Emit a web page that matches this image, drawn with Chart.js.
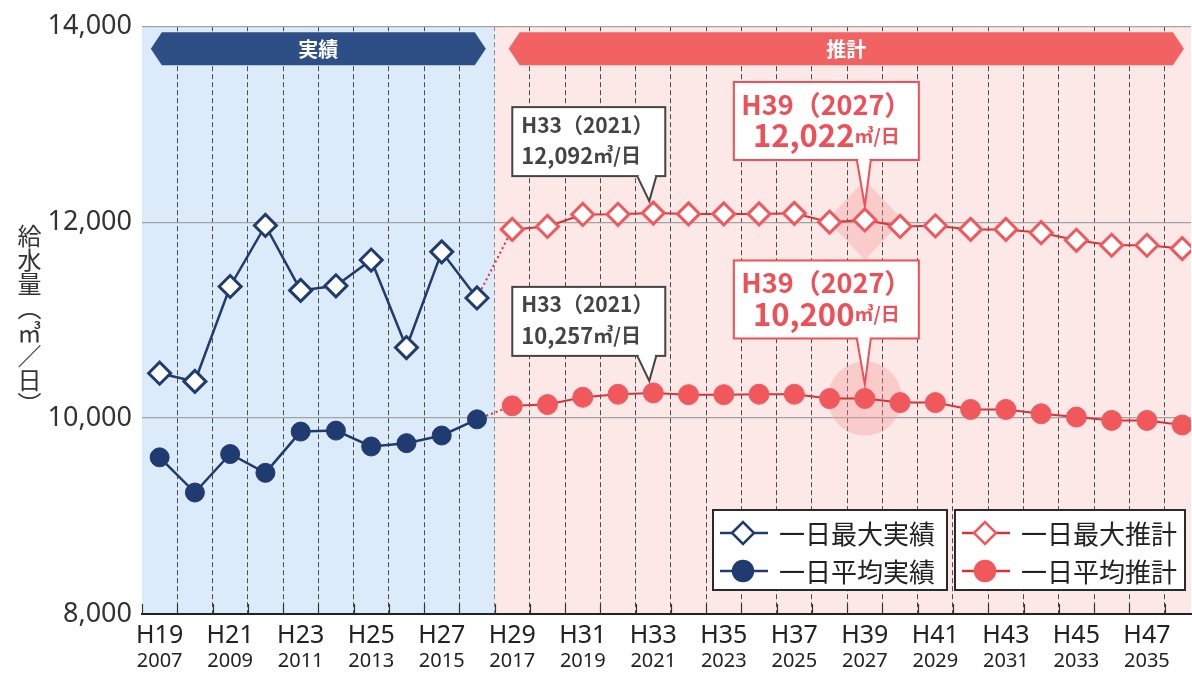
<!DOCTYPE html>
<html lang="ja">
<head>
<meta charset="utf-8">
<script src="https://cdn.jsdelivr.net/npm/chart.js@4.4.1/dist/chart.umd.min.js"></script>
<style>
  html, body { margin: 0; padding: 0; background: #fff; overflow: hidden; }
  #wrap { position: relative; width: 1205px; height: 677px; }
  #ytitle {
    position: absolute; left: 12px; top: 224px;
    writing-mode: vertical-rl; line-height: 1;
    font: 24px 'Noto Sans CJK JP', sans-serif; color: #333;
  }
</style>
</head>
<body>
<div id="wrap">
  <canvas id="chart"></canvas>
  <div id="ytitle">給水量（㎥／日）</div>
</div>
<script>
// 年度（西暦と平成）
const years = [2007, 2008, 2009, 2010, 2011, 2012, 2013, 2014, 2015, 2016,
               2017, 2018, 2019, 2020, 2021, 2022, 2023, 2024, 2025, 2026,
               2027, 2028, 2029, 2030, 2031, 2032, 2033, 2034, 2035, 2036];
const eraLabels = ['H19', 'H20', 'H21', 'H22', 'H23', 'H24', 'H25', 'H26', 'H27', 'H28',
                   'H29', 'H30', 'H31', 'H32', 'H33', 'H34', 'H35', 'H36', 'H37', 'H38',
                   'H39', 'H40', 'H41', 'H42', 'H43', 'H44', 'H45', 'H46', 'H47', 'H48'];
const yTicks = [8000, 10000, 12000, 14000];

// 実績 H19〜H28
const maxActual = [10458, 10374, 11343, 11966, 11303, 11350, 11613, 10720, 11697, 11226];
const avgActual = [9599, 9240, 9633, 9441, 9862, 9872, 9710, 9744, 9822, 9987];
// 推計 H29〜H48
const maxForecast = [11926, 11956, 12078, 12080, 12092, 12084, 12084, 12084, 12090, 12000,
                     12022, 11956, 11963, 11926, 11926, 11892, 11815, 11764, 11764, 11730];
const avgForecast = [10125, 10138, 10212, 10243, 10257, 10239, 10239, 10243, 10243, 10199,
                     10200, 10158, 10158, 10088, 10088, 10044, 10010, 9976, 9976, 9929];

const NAVY = '#1f3b70';
const RED = '#f0585c';
const RED_LINE = '#d8323a';
const JP = "'Noto Sans CJK JP', sans-serif";

const actualYears = years.slice(0, maxActual.length);
const forecastYears = years.slice(maxActual.length);
const pts = (xs, ys) => ys.map((v, i) => ({ x: xs[i], y: v }));
const last = maxActual.length - 1;

// 実績の最終年から推計へつなぐ点を先頭に置く
const maxForecastPts = [{ x: actualYears[last], y: maxActual[last] }].concat(pts(forecastYears, maxForecast));
const avgForecastPts = [{ x: actualYears[last], y: avgActual[last] }].concat(pts(forecastYears, avgForecast));

const xMin = years[0] - 0.5;
const xMax = years[years.length - 1] + 0.25;
const split = actualYears[last] + 0.5;

const halfYears = years.map(y => y - 0.5);
const oddYears = years.filter(y => y % 2 === 1);
const xTicks = halfYears.concat(oddYears).sort((a, b) => a - b);

function valueAt(series, yrs, year) {
  return series[yrs.indexOf(year)];
}
const fmt = v => v.toLocaleString('en-US');

// 吹き出し
const callouts = [
  { year: 2021, series: maxForecast, kind: 'gray' },
  { year: 2021, series: avgForecast, kind: 'gray' },
  { year: 2027, series: maxForecast, kind: 'red' },
  { year: 2027, series: avgForecast, kind: 'red' }
];
const calloutStyle = {
  gray: { color: '#444', box: [-141, -106, 12, -37], base: [-16, 3], tip: [-4, -12],
          l1: 21, num: 22, unit: 20, y1: 18, y2: 49, align: 'left', pad: 9 },
  red:  { color: '#ef4f56', box: [-131, -138, 54, -60], base: [-8, 6], tip: [0, -14],
          l1: 27, num: 31, unit: 19, y1: 23, y2: 54, align: 'center', pad: 0 }
};

const backgroundPlugin = {
  id: 'background',
  beforeDraw(chart) {
    const { ctx, chartArea: a, scales: { x } } = chart;
    const xs = x.getPixelForValue(split);
    ctx.save();
    ctx.fillStyle = '#dcebf9';
    ctx.fillRect(a.left, a.top, xs - a.left, a.bottom - a.top);
    ctx.fillStyle = '#fde8e8';
    ctx.fillRect(xs, a.top, a.right - xs, a.bottom - a.top);
    ctx.restore();
  },
  beforeDatasetsDraw(chart) {
    const { ctx, chartArea: a, scales: { x, y } } = chart;
    ctx.save();
    // 軸の内側の目盛り
    ctx.strokeStyle = '#333';
    ctx.lineWidth = 1.2;
    halfYears.forEach(v => {
      const px = Math.round(x.getPixelForValue(v)) + 0.5;
      ctx.beginPath();
      ctx.moveTo(px, a.bottom);
      ctx.lineTo(px, a.bottom - 10);
      ctx.stroke();
    });
    // H39 の強調
    const hx = x.getPixelForValue(2027);
    const hy1 = y.getPixelForValue(valueAt(maxForecast, forecastYears, 2027));
    const hy2 = y.getPixelForValue(valueAt(avgForecast, forecastYears, 2027));
    ctx.fillStyle = 'rgba(243, 150, 150, 0.35)';
    ctx.beginPath();
    ctx.moveTo(hx, hy1 - 40);
    ctx.lineTo(hx + 38, hy1);
    ctx.lineTo(hx, hy1 + 40);
    ctx.lineTo(hx - 38, hy1);
    ctx.closePath();
    ctx.fill();
    ctx.beginPath();
    ctx.arc(hx, hy2, 37, 0, Math.PI * 2);
    ctx.fill();
    ctx.restore();
  }
};

function drawBanner(ctx, x1, x2, yt, yb, color, text) {
  const yc = (yt + yb) / 2;
  const tip = 11;
  ctx.fillStyle = color;
  ctx.beginPath();
  ctx.moveTo(x1, yc);
  ctx.lineTo(x1 + tip, yt);
  ctx.lineTo(x2 - tip, yt);
  ctx.lineTo(x2, yc);
  ctx.lineTo(x2 - tip, yb);
  ctx.lineTo(x1 + tip, yb);
  ctx.closePath();
  ctx.fill();
  ctx.fillStyle = '#fff';
  ctx.font = 'bold 20px ' + JP;
  ctx.textAlign = 'center';
  ctx.textBaseline = 'middle';
  ctx.fillText(text, (x1 + x2) / 2, yc + 1);
}

// 文字サイズの違う断片を1行に並べる
function drawSegments(ctx, segs, x0, cy, color, align) {
  const widths = segs.map(s => { ctx.font = 'bold ' + s.size + 'px ' + JP; return ctx.measureText(s.t).width; });
  let x = align === 'center' ? x0 - widths.reduce((a, b) => a + b, 0) / 2 : x0;
  ctx.fillStyle = color;
  ctx.textAlign = 'left';
  ctx.textBaseline = 'alphabetic';
  segs.forEach((s, i) => {
    ctx.font = 'bold ' + s.size + 'px ' + JP;
    ctx.fillText(s.t, x, cy + s.size * 0.36);
    x += widths[i];
  });
}

const overlayPlugin = {
  id: 'overlay',
  afterDatasetsDraw(chart) {
    const { ctx, scales: { x, y } } = chart;
    ctx.save();
    callouts.forEach(c => {
      const st = calloutStyle[c.kind];
      const v = valueAt(c.series, forecastYears, c.year);
      const px = x.getPixelForValue(c.year);
      const py = y.getPixelForValue(v);
      const [l, t, r, b] = [px + st.box[0], py + st.box[1], px + st.box[2], py + st.box[3]];
      ctx.lineWidth = 2;
      ctx.strokeStyle = st.color;
      ctx.fillStyle = '#fff';
      ctx.fillRect(l, t, r - l, b - t);
      ctx.strokeRect(l, t, r - l, b - t);
      // 吹き出しの先
      ctx.beginPath();
      ctx.moveTo(px + st.base[0], b);
      ctx.lineTo(px + st.tip[0], py + st.tip[1]);
      ctx.lineTo(px + st.base[1], b);
      ctx.closePath();
      ctx.fill();
      ctx.beginPath();
      ctx.moveTo(px + st.base[0], b);
      ctx.lineTo(px + st.tip[0], py + st.tip[1]);
      ctx.lineTo(px + st.base[1], b);
      ctx.stroke();
      ctx.fillStyle = '#fff';
      ctx.fillRect(px + st.base[0] + 1.5, b - 2, st.base[1] - st.base[0] - 3, 2.5);
      const era = eraLabels[years.indexOf(c.year)];
      const tx = st.align === 'center' ? (l + r) / 2 : l + st.pad;
      drawSegments(ctx, [{ t: era + '（' + c.year + '）', size: st.l1 }], tx, t + st.y1, st.color, st.align);
      drawSegments(ctx, [{ t: fmt(v), size: st.num }, { t: '㎥/日', size: st.unit }], tx, t + st.y2, st.color, st.align);
    });
    ctx.restore();
  },
  afterDraw(chart) {
    const { ctx, chartArea: a, scales: { x } } = chart;
    ctx.save();
    drawBanner(ctx, x.getPixelForValue(years[0] - 0.25), x.getPixelForValue(split - 0.25),
               a.top + 6, a.top + 39, '#2e4f86', '実績');
    drawBanner(ctx, x.getPixelForValue(split + 0.4), x.getPixelForValue(years[years.length - 1] + 0.05),
               a.top + 6, a.top + 39, '#f36262', '推計');

    // 凡例（2つの枠）
    const ds = chart.data.datasets;
    const groups = [[ds[0], ds[1]], [ds[2], ds[3]]];
    const boxes = [[713, 947], [955, 1185]];
    const top = a.bottom - 104, bottom = a.bottom - 24;
    groups.forEach((g, gi) => {
      const [l, r] = boxes[gi];
      ctx.fillStyle = '#fff';
      ctx.fillRect(l, top, r - l, bottom - top);
      ctx.strokeStyle = '#2a2a2a';
      ctx.lineWidth = 2;
      ctx.strokeRect(l, top, r - l, bottom - top);
      g.forEach((d, i) => {
        const yy = top + 23 + i * 38;
        ctx.strokeStyle = d.borderColor;
        ctx.lineWidth = 2.5;
        ctx.beginPath();
        ctx.moveTo(l + 7, yy);
        ctx.lineTo(l + 55, yy);
        ctx.stroke();
        ctx.fillStyle = d.pointBackgroundColor;
        ctx.strokeStyle = d.pointBorderColor;
        Chart.helpers.drawPoint(ctx, {
          pointStyle: d.pointStyle, radius: d.pointStyle === 'circle' ? 10 : 11,
          borderWidth: d.pointBorderWidth, rotation: 0
        }, l + 30, yy);
        ctx.fillStyle = '#222';
        ctx.font = '26px ' + JP;
        ctx.textAlign = 'left';
        ctx.textBaseline = 'middle';
        ctx.fillText(d.label, l + 66, yy + 1);
      });
    });
    ctx.restore();
  }
};

new Chart(document.getElementById('chart'), {
  type: 'line',
  data: {
    datasets: [
      {
        label: '一日最大実績', data: pts(actualYears, maxActual),
        borderColor: NAVY, borderWidth: 2.5,
        pointStyle: 'rectRot', pointRadius: 11,
        pointBackgroundColor: '#fff', pointBorderColor: NAVY, pointBorderWidth: 3
      },
      {
        label: '一日平均実績', data: pts(actualYears, avgActual),
        borderColor: NAVY, borderWidth: 2.5,
        pointStyle: 'circle', pointRadius: 9.5,
        pointBackgroundColor: NAVY, pointBorderColor: NAVY, pointBorderWidth: 1
      },
      {
        label: '一日最大推計', data: maxForecastPts,
        borderColor: RED_LINE, borderWidth: 2,
        pointStyle: 'rectRot', pointRadius: ctx => ctx.dataIndex === 0 ? 0 : 11,
        pointBackgroundColor: '#fff', pointBorderColor: RED, pointBorderWidth: 3,
        segment: { borderDash: ctx => ctx.p0DataIndex === 0 ? [2, 3] : undefined }
      },
      {
        label: '一日平均推計', data: avgForecastPts,
        borderColor: RED_LINE, borderWidth: 2,
        pointStyle: 'circle', pointRadius: ctx => ctx.dataIndex === 0 ? 0 : 10,
        pointBackgroundColor: RED, pointBorderColor: RED, pointBorderWidth: 1,
        segment: { borderDash: ctx => ctx.p0DataIndex === 0 ? [2, 3] : undefined }
      }
    ]
  },
  options: {
    responsive: true,
    maintainAspectRatio: false,
    animation: false,
    events: [],
    layout: { padding: { top: 23, right: 0, bottom: 0, left: 0 } },
    plugins: { legend: { display: false }, tooltip: { enabled: false } },
    scales: {
      x: {
        type: 'linear', position: 'bottom', min: xMin, max: xMax,
        afterBuildTicks: s => { s.ticks = xTicks.map(v => ({ value: v })); },
        afterFit: s => { s.height = 30; },
        grid: {
          drawTicks: false, lineWidth: 1,
          color: ctx => {
            const v = ctx.tick ? ctx.tick.value : 0;
            if (v % 1 === 0 || v === xMin) return 'rgba(0,0,0,0)';
            return v === split ? '#8a8a8a' : '#4a4a4a';
          }
        },
        border: { color: '#222', width: 2, dash: [5, 3] },
        ticks: {
          autoSkip: false, maxRotation: 0, padding: 7, color: '#222',
          font: { family: "'Noto Sans', sans-serif", size: 25 },
          callback: v => oddYears.includes(v) ? eraLabels[years.indexOf(v)] : ''
        }
      },
      x2: {
        type: 'linear', position: 'bottom', min: xMin, max: xMax,
        afterBuildTicks: s => { s.ticks = oddYears.map(v => ({ value: v })); },
        afterFit: s => { s.height = 33; },
        grid: { display: false, drawTicks: false },
        border: { display: false },
        ticks: {
          autoSkip: false, maxRotation: 0, padding: 5, color: '#222',
          font: { family: "'Noto Sans', sans-serif", size: 20 },
          callback: v => String(v)
        }
      },
      y: {
        min: yTicks[0], max: yTicks[yTicks.length - 1],
        afterBuildTicks: s => { s.ticks = yTicks.map(v => ({ value: v })); },
        afterFit: s => { s.width = 142; },
        grid: {
          drawTicks: false, lineWidth: 1.2,
          color: ctx => (ctx.tick && ctx.tick.value === yTicks[0]) ? 'rgba(0,0,0,0)' : '#a3a3a3'
        },
        border: { display: false },
        ticks: {
          padding: 10, color: '#333',
          font: { family: "'Noto Sans', sans-serif", size: 27 },
          callback: v => fmt(v)
        }
      }
    }
  },
  plugins: [backgroundPlugin, overlayPlugin]
});
</script>
</body>
</html>
